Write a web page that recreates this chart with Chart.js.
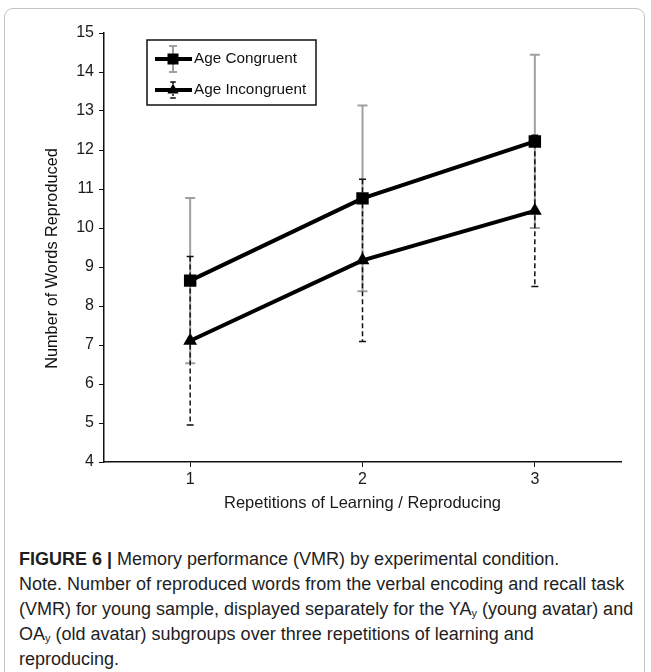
<!DOCTYPE html>
<html>
<head>
<meta charset="utf-8">
<script src="https://cdn.jsdelivr.net/npm/chart.js@4.4.1/dist/chart.umd.min.js"></script>
<style>
  html, body { margin: 0; padding: 0; background: #fff; }
  body { width: 651px; height: 672px; overflow: hidden; position: relative; }
  #frame {
    position: absolute; left: 4px; top: 8px; width: 641px; height: 720px;
    border: 1px solid #c4c4c4; border-radius: 9px; box-sizing: border-box;
  }
  #wrap { position: absolute; left: 0; top: 0; width: 651px; height: 525px; }
  #caption {
    position: absolute; left: 19px; top: 547px; width: 630px;
    font-family: "Liberation Sans", Arial, sans-serif; font-size: 18px;
    line-height: 25px; color: #1e1e1e; white-space: nowrap;
  }
  #caption b { font-weight: bold; }
  #caption sub { font-size: 11px; vertical-align: -2px; line-height: 0; }
</style>
</head>
<body>
<div id="frame"></div>
<div id="wrap"><canvas id="c" width="651" height="525"></canvas></div>
<div id="caption"><b>FIGURE 6 |</b> Memory performance (VMR) by experimental condition.<br>Note. Number of reproduced words from the verbal encoding and recall task<br>(VMR) for young sample, displayed separately for the YA<sub>y</sub> (young avatar) and<br>OA<sub>y</sub> (old avatar) subgroups over three repetitions of learning and<br>reproducing.</div>
<script>
// Repetition rounds on the x axis
const repetitions = ['1', '2', '3'];

// Mean number of words reproduced per condition
const congruentMeans = [8.65, 10.76, 12.22];
const incongruentMeans = [7.11, 9.17, 10.44];

// Error bar half-widths (one SD)
const congruentErr = [2.12, 2.38, 2.22];
const incongruentErr = [2.16, 2.08, 1.94];

// Y axis range
const yMin = 4;
const yMax = 15;

const FONT = '"Liberation Sans", Arial, sans-serif';

// Error bars are drawn under the markers, from the same scales as the points
const errorBarPlugin = {
  id: 'errorBars',
  beforeDatasetsDraw(chart) {
    const ctx = chart.ctx;
    const x = chart.scales.x, y = chart.scales.y;
    chart.data.datasets.forEach((ds) => {
      const st = ds.errStyle;
      ctx.save();
      ctx.strokeStyle = st.color;
      ctx.lineWidth = st.width;
      ds.data.forEach((v, i) => {
        const e = ds.errors[i];
        const px = x.getPixelForValue(i);
        const top = y.getPixelForValue(v + e);
        const bot = y.getPixelForValue(v - e);
        ctx.setLineDash(st.dash);
        ctx.beginPath();
        ctx.moveTo(px, top); ctx.lineTo(px, bot);
        ctx.stroke();
        ctx.setLineDash([]);
        ctx.beginPath();
        ctx.moveTo(px - st.cap, top); ctx.lineTo(px + st.cap, top);
        ctx.moveTo(px - st.cap, bot); ctx.lineTo(px + st.cap, bot);
        ctx.stroke();
      });
      ctx.restore();
    });
  }
};

// Boxed legend: line sample with marker and a small error bar, then the label
const boxLegendPlugin = {
  id: 'boxLegend',
  afterDraw(chart) {
    const ctx = chart.ctx;
    const bx = 147, by = 40, bw = 169, bh = 65;
    ctx.save();
    ctx.strokeStyle = '#111';
    ctx.lineWidth = 1.5;
    ctx.strokeRect(bx, by, bw, bh);
    const rows = [59, 90];
    chart.data.datasets.forEach((ds, i) => {
      const cy = rows[i];
      const cx = 173;
      const st = ds.errStyle;
      const eh = i === 0 ? 13 : 8;
      // small error bar
      ctx.strokeStyle = st.color;
      ctx.lineWidth = st.width;
      ctx.setLineDash(i === 0 ? [] : [2, 2]);
      ctx.beginPath(); ctx.moveTo(cx, cy - eh); ctx.lineTo(cx, cy + eh); ctx.stroke();
      ctx.setLineDash([]);
      ctx.beginPath();
      ctx.moveTo(cx - st.cap * 0.8, cy - eh); ctx.lineTo(cx + st.cap * 0.8, cy - eh);
      ctx.moveTo(cx - st.cap * 0.8, cy + eh); ctx.lineTo(cx + st.cap * 0.8, cy + eh);
      ctx.stroke();
      // line sample
      ctx.strokeStyle = '#000';
      ctx.lineWidth = 4;
      ctx.beginPath(); ctx.moveTo(155, cy); ctx.lineTo(192, cy); ctx.stroke();
      // marker
      ctx.fillStyle = '#000';
      if (ds.pointStyle === 'rect') {
        ctx.fillRect(cx - 5.5, cy - 5.5, 11, 11);
      } else {
        ctx.beginPath();
        ctx.moveTo(cx, cy - 6.5);
        ctx.lineTo(cx + 5.6, cy + 3.5);
        ctx.lineTo(cx - 5.6, cy + 3.5);
        ctx.closePath(); ctx.fill();
      }
      ctx.fillStyle = '#111';
      ctx.font = '15.3px ' + FONT;
      ctx.textBaseline = 'middle';
      ctx.textAlign = 'left';
      ctx.fillText(ds.label, 194, cy);
    });
    ctx.restore();
  }
};

// Vertical axis title, placed beside the axis
const yTitlePlugin = {
  id: 'yTitle',
  afterDraw(chart) {
    const ctx = chart.ctx;
    const a = chart.chartArea;
    ctx.save();
    ctx.translate(53, (a.top + a.bottom) / 2 + 11);
    ctx.rotate(-Math.PI / 2);
    ctx.font = '16.3px ' + FONT;
    ctx.fillStyle = '#111';
    ctx.textAlign = 'center';
    ctx.textBaseline = 'middle';
    ctx.fillText('Number of Words Reproduced', 0, 0);
    ctx.restore();
  }
};

new Chart(document.getElementById('c'), {
  type: 'line',
  data: {
    labels: repetitions,
    datasets: [
      {
        label: 'Age Congruent',
        data: congruentMeans,
        errors: congruentErr,
        errStyle: { color: '#a0a0a0', width: 2, dash: [], cap: 5 },
        borderColor: '#000',
        backgroundColor: '#000',
        borderWidth: 4,
        pointStyle: 'rect',
        pointRadius: 8.8,
        pointHoverRadius: 8.8,
        pointBorderWidth: 0,
        tension: 0
      },
      {
        label: 'Age Incongruent',
        data: incongruentMeans,
        errors: incongruentErr,
        errStyle: { color: '#111', width: 1.5, dash: [5, 3], cap: 3.5 },
        borderColor: '#000',
        backgroundColor: '#000',
        borderWidth: 4,
        pointStyle: 'triangle',
        pointRadius: 8,
        pointHoverRadius: 8,
        pointBorderWidth: 0,
        tension: 0
      }
    ]
  },
  options: {
    responsive: false,
    animation: false,
    events: [],
    layout: { padding: { top: 33, right: 30, left: 0, bottom: 0 } },
    plugins: {
      legend: { display: false },
      tooltip: { enabled: false }
    },
    scales: {
      x: {
        type: 'category',
        offset: true,
        grid: {
          offset: false,
          drawOnChartArea: false,
          drawTicks: true,
          tickLength: 5,
          color: '#111'
        },
        border: { color: '#111', width: 1.5 },
        ticks: {
          padding: 3,
          color: '#1a1a1a',
          font: { family: FONT, size: 16 }
        },
        title: {
          display: true,
          text: 'Repetitions of Learning / Reproducing',
          color: '#1a1a1a',
          font: { family: FONT, size: 16.5 },
          padding: { top: 0, bottom: 12 }
        },
        afterFit(scale) { scale.height = 63; }
      },
      y: {
        min: yMin,
        max: yMax,
        ticks: {
          stepSize: 1,
          padding: 5,
          color: '#1a1a1a',
          font: { family: FONT, size: 16 }
        },
        grid: {
          drawOnChartArea: false,
          drawTicks: true,
          tickLength: 5,
          color: '#111'
        },
        border: { color: '#111', width: 1.5 },
        afterFit(scale) { scale.width = 104; }
      }
    }
  },
  plugins: [errorBarPlugin, boxLegendPlugin, yTitlePlugin]
});
</script>
</body>
</html>
